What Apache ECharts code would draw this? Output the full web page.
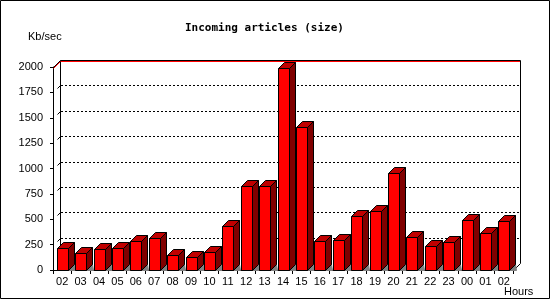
<!DOCTYPE html>
<html><head><meta charset="utf-8">
<script src="https://cdn.jsdelivr.net/npm/echarts@6/dist/echarts.min.js"></script>
<style>html,body{margin:0;padding:0;background:#fff}#c{width:550px;height:300px}</style>
</head><body><div id="c"></div>
<script>
const hours = ['02','03','04','05','06','07','08','09','10','11','12','13','14','15','16','17','18','19','20','21','22','23','00','01','02'];
const sizes = [214,164,204,214,286,312,145,125,177,430,824,824,1987,1406,283,292,529,578,952,322,233,273,490,361,480];
const yTicks = [0,250,500,750,1000,1250,1500,1750,2000];

const DX = 7, DY = 7, BD = 6, BW = 11;
const FONT = "'Liberation Sans', Arial, sans-serif";

const chart = echarts.init(document.getElementById('c'), null, {renderer: 'canvas'});

function frameItem(params, api) {
  const cs = params.coordSys;
  const L = cs.x, T = cs.y, R = cs.x + cs.width, B = cs.y + cs.height;
  const ch = [];
  const line = (x1, y1, x2, y2, st) => ch.push({type: 'line', shape: {x1, y1, x2, y2},
    style: Object.assign({stroke: '#000', lineWidth: 1, fill: null}, st || {})});
  yTicks.forEach(t => {
    const yf = Math.round(api.coord([0, t])[1]);
    if (t > 0 && t < yTicks[yTicks.length - 1]) {
      const yb = yf - DY + 0.5;
      line(L + DX + 1, yb, R + DX, yb, {lineDash: [2, 2]});
    }
    if (t < yTicks[yTicks.length - 1]) {
      line(L + 4.5, yf - 3.5, L + DX + 0.5, yf - DY + 0.5);
    }
  });
  line(L + DX + 0.5, T - DY + 0.5, L + DX + 0.5, B - DY + 0.5);
  line(R + DX + 0.5, T - DY + 0.5, R + DX + 0.5, B - DY + 0.5);
  line(L + DX + 0.5, T - DY + 0.5, R + DX + 0.5, T - DY + 0.5);
  line(L + DX + 1, T - DY + 1.5, R + DX, T - DY + 1.5, {stroke: '#ff0000'});
  line(L + 0.5, T + 1.5, L + DX + 0.5, T - DY + 1.5, {stroke: '#ff0000'});
  line(L + 0.5, T + 0.5, L + DX + 0.5, T - DY + 0.5);
  line(R + 0.5, B + 0.5, R + DX + 0.5, B - DY + 0.5);
  return {type: 'group', children: ch};
}

function barItem(params, api) {
  const i = api.value(0), v = api.value(1);
  const top = api.coord([i, v]);
  const base = api.coord([i, 0]);
  const x0 = Math.round(top[0] - BW / 2) + 0.5;
  const x1 = x0 + BW;
  const yt = Math.round(top[1]) + 0.5;
  const yb = Math.round(base[1]) + 0.5;
  const stroke = {stroke: '#000', lineWidth: 1};
  return {type: 'group', children: [
    {type: 'polygon', shape: {points: [[x1, yb], [x1 + BD, yb - BD], [x1 + BD + 1, yb]]},
      style: {fill: '#808080', stroke: '#808080', lineWidth: 1}},
    {type: 'polygon', shape: {points: [[x1, yt], [x1 + BD, yt - BD], [x1 + BD, yb - BD], [x1, yb]]},
      style: Object.assign({fill: '#800000'}, stroke)},
    {type: 'polygon', shape: {points: [[x0, yt], [x0 + BD, yt - BD], [x1 + BD, yt - BD], [x1, yt]]},
      style: Object.assign({fill: '#c00000'}, stroke)},
    {type: 'rect', shape: {x: x0, y: yt, width: BW, height: yb - yt},
      style: Object.assign({fill: '#ff0000'}, stroke)}
  ]};
}

chart.setOption({
  animation: false,
  backgroundColor: '#fff',
  title: {
    text: 'Incoming articles (size)', left: 180, top: 18,
    textStyle: {fontFamily: "'DejaVu Sans Mono', monospace", fontWeight: 'bold', fontSize: 11, color: '#000'}
  },
  grid: {left: 53, top: 67, width: 460, height: 203, containLabel: false},
  xAxis: {
    type: 'category', data: hours, boundaryGap: true,
    axisLine: {show: true, lineStyle: {color: '#000', width: 1}},
    axisTick: {show: true, length: 4, lineStyle: {color: '#000'}, alignWithLabel: false},
    axisLabel: {color: '#000', fontFamily: FONT, fontSize: 11, margin: 6, interval: 0},
    splitLine: {show: false}
  },
  yAxis: {
    type: 'value', min: 0, max: 2000, interval: 250,
    axisLine: {show: true, lineStyle: {color: '#000', width: 1}},
    axisTick: {show: true, length: 3, lineStyle: {color: '#000'}},
    axisLabel: {color: '#000', fontFamily: FONT, fontSize: 11, margin: 10, formatter: v => String(v)},
    splitLine: {show: false}
  },
  graphic: [
    {type: 'rect', shape: {x: 0.5, y: 0.5, width: 549, height: 298}, style: {fill: null, stroke: '#000', lineWidth: 1}, silent: true, z: 100},
    {type: 'text', left: 28, top: 31, style: {text: 'Kb/sec', fill: '#000', font: "11px 'Liberation Sans', Arial, sans-serif"}},
    {type: 'text', left: 504, top: 286, style: {text: 'Hours', fill: '#000', font: "11px 'Liberation Sans', Arial, sans-serif"}}
  ],
  series: [
    {type: 'custom', name: 'frame', renderItem: frameItem, data: [[0, 0]], clip: false, z: 1, silent: true},
    {type: 'custom', name: 'size', renderItem: barItem, clip: false, z: 2,
      encode: {x: 0, y: 1},
      data: sizes.map((v, i) => [i, v])}
  ]
});
</script>
</body></html>
